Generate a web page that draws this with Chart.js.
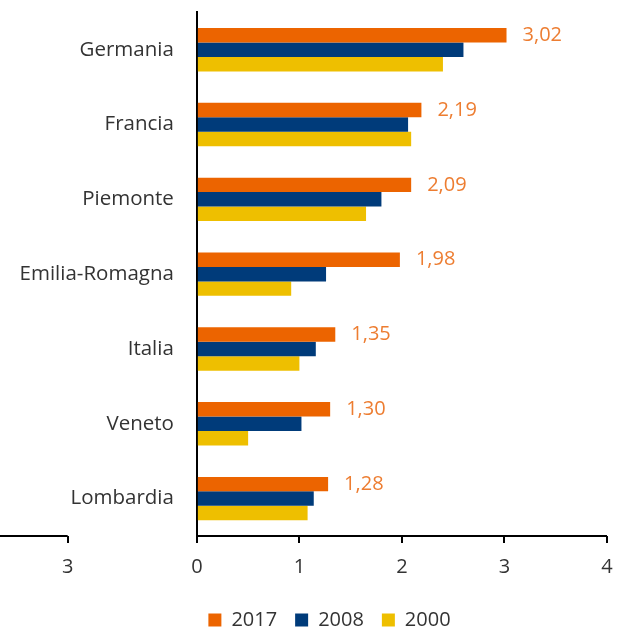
<!DOCTYPE html>
<html><head><meta charset="utf-8">
<script src="https://cdn.jsdelivr.net/npm/chart.js@4/dist/chart.umd.min.js"></script>
<style>html,body{margin:0;padding:0;background:#fff;overflow:hidden}#wrap{width:618px;height:628px;position:relative}</style>
</head><body><div id="wrap"><canvas id="c"></canvas></div>
<script>
const categories = ["Germania","Francia","Piemonte","Emilia-Romagna","Italia","Veneto","Lombardia"];
const values2017 = [3.02,2.19,2.09,1.98,1.35,1.30,1.28];
const values2008 = [2.60,2.06,1.80,1.26,1.16,1.02,1.14];
const values2000 = [2.40,2.09,1.65,0.92,1.00,0.50,1.08];
const seriesNames = ["2017","2008","2000"];
const xTickValues = [-1.26,0,1,2,3,4];
const xTickLabels = ["3","0","1","2","3","4"];

const FONT = "'Open Sans', sans-serif";
const FS = 20.5;
const labelPlugin = {
  id: 'vals',
  afterDatasetsDraw(chart){
    const ctx = chart.ctx; const meta = chart.getDatasetMeta(0);
    ctx.save(); ctx.font = "20px " + FONT; ctx.fillStyle = "#ED7D31";
    ctx.textAlign = "left"; ctx.textBaseline = "middle";
    meta.data.forEach((el,i)=>{ ctx.fillText(values2017[i].toFixed(2).replace('.',','), el.x+16, el.y); });
    ctx.restore();
  }
};
const axisLinePlugin = {
  id: 'axline',
  afterDraw(chart){
    const x = chart.scales.x, ctx = chart.ctx, y = chart.chartArea.bottom;
    ctx.save(); ctx.strokeStyle = "#000"; ctx.lineWidth = 2;
    ctx.beginPath();
    ctx.moveTo(x.left, y); ctx.lineTo(x.getPixelForValue(xTickValues[0]), y);
    ctx.moveTo(x.getPixelForValue(0), y); ctx.lineTo(x.right, y);
    ctx.stroke(); ctx.restore();
  }
};
const layoutTweak = {
  id: 'tweak',
  afterLayout(chart){ chart.legend.left += 26; chart.legend.right += 26; },
  beforeDraw(chart){
    const s = chart.scales.y;
    const items = s.getLabelItems(chart.chartArea);
    items.forEach(it=>{ if(!it._shifted){ it.options.translation[0] -= 23; it._shifted = true; } });
  }
};
new Chart(document.getElementById('c'), {
  type: 'bar',
  data: {
    labels: categories,
    datasets: [
      {label: seriesNames[0], data: values2017, backgroundColor: "#EC6400"},
      {label: seriesNames[1], data: values2008, backgroundColor: "#003B7A"},
      {label: seriesNames[2], data: values2000, backgroundColor: "#EEBF00"}
    ]
  },
  options: {
    indexAxis: 'y', responsive: true, maintainAspectRatio: false, animation: false, events: [],
    barPercentage: 1, categoryPercentage: 0.58,
    layout: {padding: {top: 12, right: 11, left: 0, bottom: -12}},
    plugins: {
      tooltip: {enabled: false},
      legend: {position: 'bottom', labels: {font: {family: FONT, size: 20}, color: "#333", boxWidth: 13, boxHeight: 13, padding: 18}}
    },
    scales: {
      x: {
        min: -1.92, max: 4,
        afterBuildTicks(s){ s.ticks = xTickValues.map(v=>({value:v})); },
        afterFit(s){ s.height = 56; s.paddingRight = 0; s.paddingLeft = 0; },
        ticks: {autoSkip: false, maxRotation: 0, padding: 12, color: "#333", font: {family: FONT, size: 20},
          callback(v, i){ return xTickLabels[i]; }},
        grid: {display: true, drawOnChartArea: false, drawTicks: true, tickLength: 7, color: "#000", lineWidth: 2},
        border: {display: false}
      },
      y: {
        position: {x: 0},
        ticks: {padding: 0, color: "#333", font: {family: FONT, size: FS}},
        grid: {display: false, drawTicks: false},
        border: {display: true, color: "#000", width: 2}
      }
    }
  },
  plugins: [labelPlugin, axisLinePlugin, layoutTweak]
});
</script></body></html>
